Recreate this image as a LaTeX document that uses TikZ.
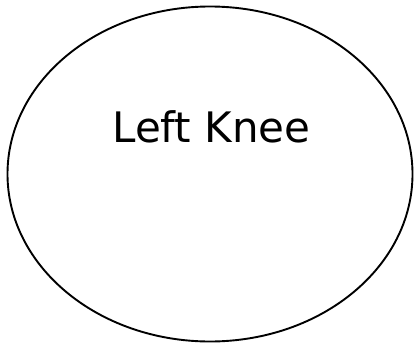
\documentclass[tikz,border=0pt]{standalone}
\usepackage{fontspec}
\setmainfont[Ligatures=NoCommon]{DejaVu Sans}
\usetikzlibrary{shapes.geometric}

\begin{document}
\begin{tikzpicture}[x=1pt,y=1pt,line cap=round,line join=round]
        \useasboundingbox (0,0) rectangle (414,346);
        \node[draw,ellipse,line width=1.9pt,inner sep=0pt,
              minimum width=405pt,minimum height=335pt] (knee) at (210,172) {};
        \node[anchor=base,font=\fontsize{42}{48}\selectfont] (kneelabel)
            at (211.5,204) {Left Knee};
    \end{tikzpicture}
\end{document}
